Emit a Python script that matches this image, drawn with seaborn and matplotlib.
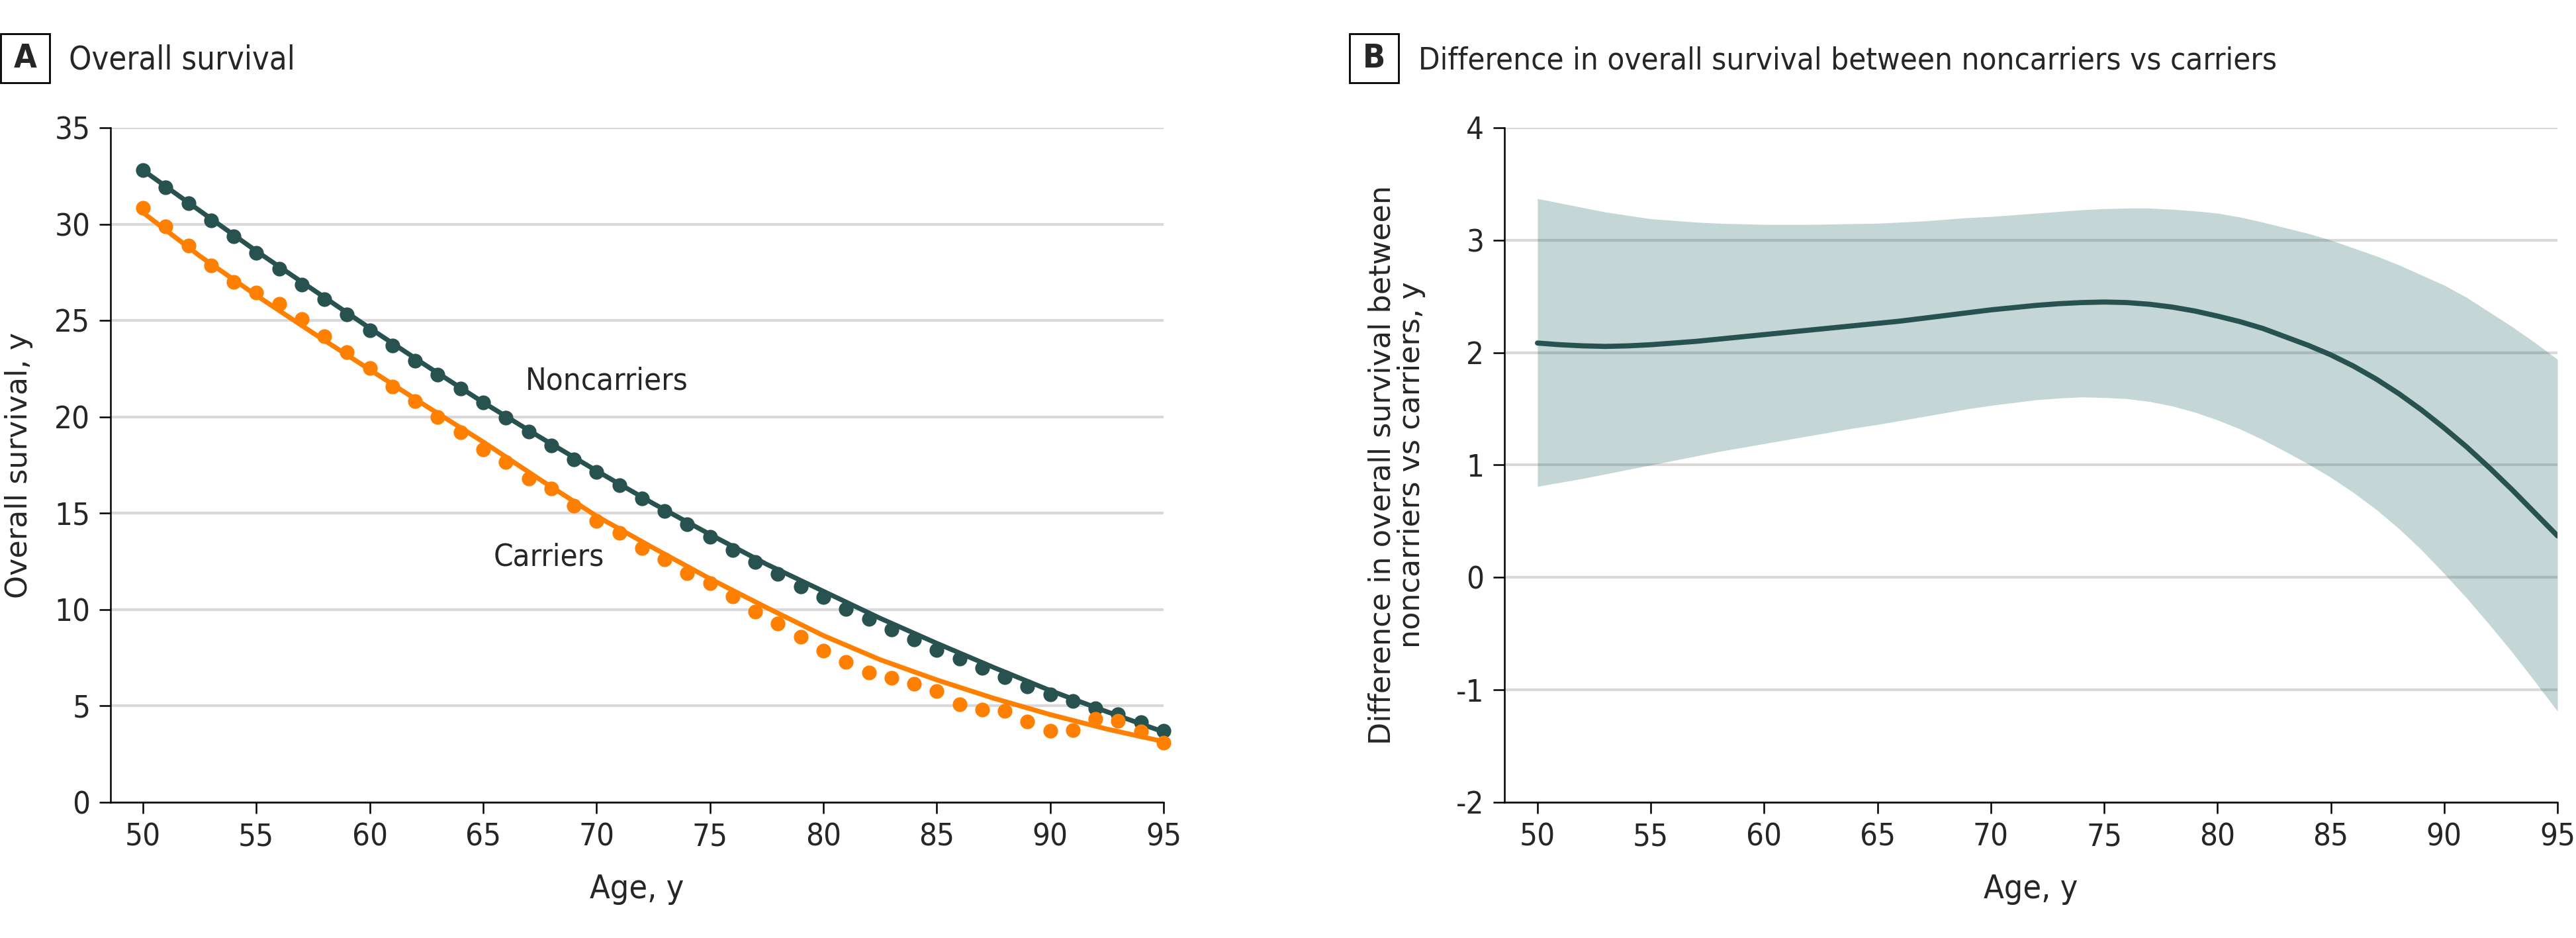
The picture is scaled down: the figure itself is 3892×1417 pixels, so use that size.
import matplotlib
matplotlib.use("Agg")
import matplotlib.pyplot as plt
import matplotlib.patches as patches
import seaborn as sns

# Panel A: supervivencia global observada (un punto por año de edad)
edad = list(range(50, 96))
no_portadores = [32.8, 31.9, 31.07, 30.2, 29.38, 28.5, 27.7, 26.87, 26.1, 25.3,
                 24.5, 23.7, 22.9, 22.2, 21.46, 20.75, 19.97, 19.23, 18.52, 17.8,
                 17.13, 16.45, 15.78, 15.1, 14.44, 13.76, 13.1, 12.47, 11.86, 11.2,
                 10.65, 10.02, 9.52, 8.98, 8.45, 7.9, 7.46, 6.98, 6.5, 6.02,
                 5.6, 5.24, 4.88, 4.56, 4.16, 3.7]
portadores = [30.86, 29.87, 28.87, 27.87, 27.0, 26.46, 25.88, 25.08, 24.19, 23.35,
              22.52, 21.58, 20.8, 19.98, 19.2, 18.3, 17.66, 16.8, 16.27, 15.4,
              14.58, 13.99, 13.2, 12.6, 11.9, 11.36, 10.69, 9.9, 9.28, 8.57,
              7.87, 7.29, 6.74, 6.44, 6.13, 5.76, 5.09, 4.82, 4.74, 4.2,
              3.7, 3.73, 4.34, 4.23, 3.66, 3.09]

# curvas ajustadas (leidas cada 2.5 años)
edad_ajuste = [50, 52.5, 55, 57.5, 60, 62.5, 65, 67.5, 70, 72.5,
               75, 77.5, 80, 82.5, 85, 87.5, 90, 92.5, 95]
ajuste_no_port = [32.8, 30.7, 28.6, 26.6, 24.6, 22.65, 20.75, 18.95, 17.2, 15.5,
                  13.9, 12.35, 10.95, 9.55, 8.25, 7.0, 5.8, 4.7, 3.65]
ajuste_port = [30.6, 28.35, 26.3, 24.35, 22.45, 20.55, 18.7, 16.75, 14.85, 13.2,
               11.6, 10.1, 8.65, 7.4, 6.35, 5.4, 4.55, 3.8, 3.15]

# Panel B: diferencia (no portadores - portadores) con IC 95%, leida por año
dif = [2.085, 2.07, 2.06, 2.055, 2.06, 2.07, 2.085, 2.10, 2.12, 2.14,
       2.16, 2.18, 2.20, 2.22, 2.24, 2.26, 2.28, 2.305, 2.33, 2.355,
       2.38, 2.40, 2.42, 2.435, 2.445, 2.45, 2.445, 2.43, 2.405, 2.37,
       2.325, 2.275, 2.215, 2.14, 2.065, 1.98, 1.88, 1.765, 1.635, 1.49,
       1.33, 1.16, 0.975, 0.78, 0.575, 0.37]
dif_sup = [3.37, 3.33, 3.29, 3.25, 3.22, 3.19, 3.175, 3.16, 3.15, 3.145,
           3.14, 3.14, 3.14, 3.143, 3.147, 3.15, 3.16, 3.17, 3.185, 3.20,
           3.21, 3.225, 3.24, 3.255, 3.27, 3.28, 3.285, 3.285, 3.275, 3.26,
           3.24, 3.205, 3.16, 3.11, 3.06, 3.0, 2.93, 2.86, 2.78, 2.69,
           2.6, 2.49, 2.36, 2.23, 2.09, 1.94]
dif_inf = [0.81, 0.845, 0.88, 0.92, 0.96, 1.0, 1.04, 1.08, 1.12, 1.155,
           1.19, 1.225, 1.26, 1.295, 1.33, 1.36, 1.395, 1.43, 1.465, 1.50,
           1.53, 1.555, 1.58, 1.595, 1.605, 1.60, 1.59, 1.565, 1.525, 1.47,
           1.40, 1.32, 1.225, 1.12, 1.01, 0.89, 0.755, 0.605, 0.435, 0.245,
           0.035, -0.185, -0.42, -0.665, -0.925, -1.19]

VERDE = "#27524f"
NARANJA = "#ff8000"
GRIS = "#d9d9d9"

sns.set_theme(style="white")
plt.rcParams["font.family"] = ["DejaVu Sans"]
plt.rcParams["font.stretch"] = "condensed"
plt.rcParams["axes.unicode_minus"] = False

fig = plt.figure(figsize=(19.46, 7.085), dpi=200)
axA = fig.add_axes([0.0429, 0.1447, 0.4088, 0.7191])
axB = fig.add_axes([0.5840, 0.1447, 0.4088, 0.7191])

# --- A ---
sns.lineplot(x=edad_ajuste, y=ajuste_no_port, color=VERDE, linewidth=2.6, ax=axA)
sns.scatterplot(x=edad, y=no_portadores, color=VERDE, s=64, linewidth=0, clip_on=False, zorder=3, ax=axA)
sns.lineplot(x=edad_ajuste, y=ajuste_port, color=NARANJA, linewidth=2.6, ax=axA)
sns.scatterplot(x=edad, y=portadores, color=NARANJA, s=64, linewidth=0, clip_on=False, zorder=4, ax=axA)
axA.text(66.86, 21.86, "Noncarriers", fontsize=17, va="center", ha="left")
axA.text(65.47, 12.7, "Carriers", fontsize=17, va="center", ha="left")
axA.set_xlim(48.57, 95)
axA.set_ylim(0, 35)
axA.set_yticks(range(0, 36, 5))
axA.set_ylabel("Overall survival, y", fontsize=16, fontstretch="normal")
axA.yaxis.set_label_coords(-0.0735, 0.5)

# --- B ---
axB.fill_between(edad, dif_inf, dif_sup, color="#145f5a", alpha=0.25, linewidth=0, zorder=2)
sns.lineplot(x=edad, y=dif, color=VERDE, linewidth=2.8, ax=axB, zorder=3)
axB.set_xlim(48.54, 95)
axB.set_ylim(-2, 4)
axB.set_yticks(range(-2, 5))
axB.set_ylabel("Difference in overall survival between\nnoncarriers vs carriers, y",
               fontsize=16, fontstretch="normal", linespacing=1.05)
axB.yaxis.set_label_coords(-0.0748, 0.5)

for ax in (axA, axB):
    ax.set_xticks(range(50, 96, 5))
    ax.set_axisbelow(True)
    ax.grid(axis="y", color=GRIS, linewidth=1.5)
    ax.grid(axis="x", visible=False)
    sns.despine(ax=ax, top=True, right=True)
    for s in ("left", "bottom"):
        ax.spines[s].set_color("black")
        ax.spines[s].set_linewidth(0.9)
    ax.tick_params(axis="both", direction="out", length=6, width=0.9, color="black",
                   labelsize=17, pad=5, left=True, bottom=True)
    ax.set_xlabel("Age, y", fontsize=18)
    ax.xaxis.set_label_coords(0.5, -0.105)

# recuadros de letra + titulos
for x0, letra, titulo, tam in [(0.0002, "A", "Overall survival", 17.5),
                               (0.5240, "B", "Difference in overall survival between noncarriers vs carriers", 17.0)]:
    fig.patches.append(patches.Rectangle((x0, 0.9118), 0.019, 0.0522, transform=fig.transFigure,
                                         fill=False, edgecolor="black", linewidth=1.0))
    fig.text(x0 + 0.0095, 0.9379, letra, fontsize=18, fontweight="bold", ha="center", va="center")
    fig.text(x0 + 0.0265, 0.9259, titulo, fontsize=tam, ha="left", va="baseline")

fig.savefig("out.png", dpi=200)
